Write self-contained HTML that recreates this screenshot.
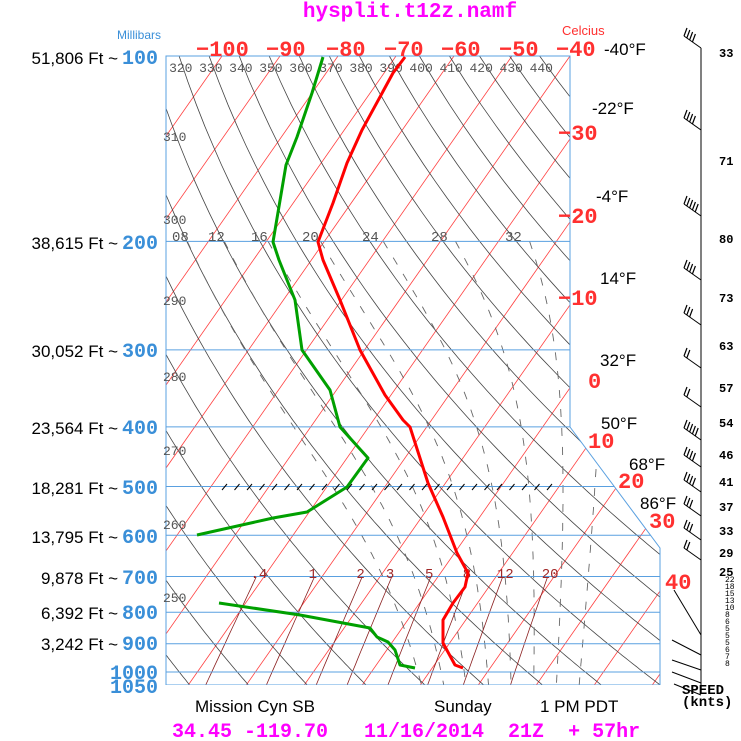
<!DOCTYPE html>
<html><head><meta charset="utf-8"><style>
body{margin:0;background:#fff;}
svg{display:block;}
.mono{font-family:"Liberation Mono",monospace;font-weight:bold;}
.sans{font-family:"Liberation Sans",sans-serif;}
</style></head><body>
<svg id="s" width="741" height="741" viewBox="0 0 741 741" xmlns="http://www.w3.org/2000/svg">
<defs><clipPath id="c"><polygon points="166,56 570,56 570,427 660,548 660,685 166,685"/></clipPath></defs>
<rect width="741" height="741" fill="#fff"/>
<g id="grid" clip-path="url(#c)"></g>
<g id="labels"></g>
<text x="410" y="17" class="mono" font-size="21" fill="#ff00ff" text-anchor="middle">hysplit.t12z.namf</text>
<text x="117" y="39" class="sans" font-size="12" fill="#3a8fd8">Millibars</text>
<text x="562" y="35" class="sans" font-size="13" fill="#ff3030">Celcius</text>
<g class="sans" font-size="17" fill="#000" text-anchor="end">
<text x="118" y="64">51,806 Ft ~</text><text x="118" y="249">38,615 Ft ~</text>
<text x="118" y="357">30,052 Ft ~</text><text x="118" y="434">23,564 Ft ~</text>
<text x="118" y="494">18,281 Ft ~</text><text x="118" y="543">13,795 Ft ~</text>
<text x="118" y="584">9,878 Ft ~</text><text x="118" y="619">6,392 Ft ~</text>
<text x="118" y="650">3,242 Ft ~</text>
</g>
<g class="mono" font-size="20" fill="#3a8fd8">
<text x="122" y="64">100</text><text x="122" y="249">200</text><text x="122" y="357">300</text>
<text x="122" y="434">400</text><text x="122" y="494">500</text><text x="122" y="543">600</text>
<text x="122" y="584">700</text><text x="122" y="619">800</text><text x="122" y="650">900</text>
<text x="110" y="679">1000</text><text x="110" y="693">1050</text>
</g>
<g class="mono" font-size="22" fill="#ff3030">
<text x="196" y="56">−100</text><text x="266" y="56">−90</text><text x="326" y="56">−80</text>
<text x="384" y="56">−70</text><text x="441" y="56">−60</text><text x="499" y="56">−50</text><text x="556" y="56">−40</text>
<text x="558" y="140">−30</text><text x="558" y="223">−20</text><text x="558" y="305">−10</text>
<text x="588" y="388">0</text><text x="588" y="448">10</text><text x="618" y="488">20</text>
<text x="649" y="528">30</text><text x="665" y="589">40</text>
</g>
<g class="sans" font-size="17" fill="#000">
<text x="604" y="55">-40°F</text><text x="592" y="114">-22°F</text><text x="596" y="202">-4°F</text>
<text x="600" y="284">14°F</text><text x="600" y="366">32°F</text><text x="601" y="429">50°F</text>
<text x="629" y="470">68°F</text><text x="640" y="509">86°F</text>
</g>
<g class="sans" font-size="17" fill="#000">
<text x="195" y="712">Mission Cyn SB</text><text x="434" y="712">Sunday</text><text x="540" y="712">1 PM PDT</text>
</g>
<text x="172" y="737" class="mono" font-size="20" fill="#ff00ff" xml:space="preserve">34.45 -119.70   11/16/2014  21Z  + 57hr</text>
<text x="682" y="694" class="mono" font-size="14" fill="#000">SPEED</text>
<text x="682" y="706" class="mono" font-size="14" fill="#000">(knts)</text>
<g id="wind"></g>
</svg>
<script>
var NS="http://www.w3.org/2000/svg";
function yP(p){return 56+267.5*Math.log(p/100);}
function xT(T,y){return 570+5.8*(T+40)-(y-56)*0.699;}
function el(par,tag,a,txt){var e=document.createElementNS(NS,tag);for(var k in a)e.setAttribute(k,a[k]);if(txt!=null)e.textContent=txt;par.appendChild(e);return e;}
var g=document.getElementById('grid'),L=document.getElementById('labels'),W=document.getElementById('wind');
function poly(par,pts,st){el(par,'polyline',Object.assign({points:pts.map(function(q){return q[0].toFixed(1)+','+q[1].toFixed(1)}).join(' '),fill:'none'},st));}
for(var T=-160;T<=60;T+=10){var y1=56,y2=685;poly(g,[[xT(T,y1),y1],[xT(T,y2),y2]],{stroke:'#ff4040','stroke-width':0.8});}
for(var th=200;th<=450;th+=10){var pts=[];for(var p=90;p<=1060;p+=10){var y=yP(p);var t=th*Math.pow(p/1000,0.2857)-273.15;pts.push([xT(t,y),y]);}poly(g,pts,{stroke:'#444','stroke-width':0.8});}
function es(tc){return 6.112*Math.exp(17.67*tc/(tc+243.5));}
function dTdp(T,p){var tc=T-273.15;var e=es(tc);var rs=0.622*e/(p-e);var Rd=287,Lv=2.5e6,cp=1004;return (Rd*T+Lv*rs)/(p*(cp+Lv*Lv*rs*0.622/(Rd*T*T)));}
for(var tw=8;tw<=36;tw+=4){var T=tw+273.15,p=1000,up=[];while(p>=200){var y=yP(p);up.push([xT(T-273.15,y),y]);T-=dTdp(T,p)*5;p-=5;}
var T2=tw+273.15,dn=[];for(p=1000;p<=1055;p+=5){dn.push([xT(T2-273.15,yP(p)),yP(p)]);T2+=dTdp(T2,p)*5;}
poly(g,up.reverse().concat(dn),{stroke:'#666','stroke-width':0.9,'stroke-dasharray':'8,11'});}
var ws=[0.4,1,2,3,5,8,12,20],wl=['.4','1','2','3','5','8','12','20'];
for(var i=0;i<ws.length;i++){var pts=[];for(var p=700;p<=1050;p+=25){var e=ws[i]*p/(622+ws[i]);var a=Math.log(e/6.112);var td=243.5*a/(17.67-a);var y=yP(p);pts.push([xT(td,y),y]);}
poly(g,pts,{stroke:'#8b2020','stroke-width':0.8});
el(L,'text',{x:pts[0][0]-6,y:578,'font-family':'Liberation Mono,monospace','font-size':14,fill:'#a02828'},wl[i]);}
var ps=[100,200,300,400,500,600,700,800,900,1000,1050];
ps.forEach(function(p){var y=yP(p);el(g,'line',{x1:166,y1:y,x2:700,y2:y,stroke:'#5aa0e0','stroke-width':1});});
for(var x=222;x<552;x+=12.5){el(g,'line',{x1:x,y1:490,x2:x+5,y2:484,stroke:'#000','stroke-width':1});}
el(L,'polyline',{points:'166,685 166,56 570,56 570,427 660,548 660,685',fill:'none',stroke:'#5aa0e0','stroke-width':1});
for(var th=320;th<=440;th+=10){var t=th*Math.pow(0.1,0.2857)-273.15;el(L,'text',{x:xT(t,56)-10,y:72,'font-family':'Liberation Mono,monospace','font-size':13,fill:'#555'},th);}
[[310,137],[300,220],[290,301],[280,377],[270,451],[260,525],[250,598]].forEach(function(a){el(L,'text',{x:163,y:a[1]+4,'font-family':'Liberation Mono,monospace','font-size':13,fill:'#555'},a[0]);});
[['08',172],['12',208],['16',251],['20',302],['24',362],['28',431],['32',505]].forEach(function(a){el(L,'text',{x:a[1],y:241,'font-family':'Liberation Mono,monospace','font-size':14,fill:'#555'},a[0]);});
var red=[[405,57],[393,73],[362,130],[347,163],[333,203],[318,242],[323,260],[340,300],[360,350],[385,395],[403,420],[410,427],[428,483],[443,517],[457,553],[468,573],[465,587],[453,603],[443,620],[443,633],[443,643],[455,665],[463,668]];
var grn=[[323,57],[312,93],[297,137],[286,165],[273,242],[279,260],[295,300],[302,350],[330,390],[340,427],[368,458],[347,487],[307,512],[273,518],[197,535],null,[219,603],[300,615],[370,628],[377,637],[388,642],[395,650],[400,665],[415,668]];
poly(L,red,{stroke:'#ff0000','stroke-width':3,'stroke-linejoin':'round'});
poly(L,grn.slice(0,15),{stroke:'#00a000','stroke-width':3,'stroke-linejoin':'round'});
poly(L,grn.slice(16),{stroke:'#00a000','stroke-width':3,'stroke-linejoin':'round'});
el(W,'line',{x1:701,y1:48,x2:701,y2:688,stroke:'#000','stroke-width':1});
var wd=[[48,4],[130,4],[216,5],[280,4],[325,3],[368,2],[407,2],[440,5],[467,4],[492,4],[516,3],[540,3],[560,2]];
wd.forEach(function(a){var y=a[0];var ex=684,ey=y-12;el(W,'line',{x1:701,y1:y,x2:ex,y2:ey,stroke:'#000','stroke-width':1});
for(var k=0;k<a[1];k++){var bx=ex+k*2.8,by=ey+k*2;el(W,'line',{x1:bx,y1:by,x2:bx+3,y2:by-8,stroke:'#000','stroke-width':1.2});}});
[[620,674,590],[640,672,640],[655,672,660],[668,672,672],[680,674,684]].forEach(function(a){el(W,'line',{x1:701,y1:a[0]+15,x2:a[1],y2:a[2],stroke:'#000','stroke-width':1});});
var sl=[[52,'33'],[160,'71'],[238,'80'],[297,'73'],[345,'63'],[387,'57'],[422,'54'],[454,'46'],[481,'41'],[506,'37'],[530,'33'],[552,'29'],[571,'25']];
sl.forEach(function(a){el(W,'text',{x:719,y:a[0]+5,'font-family':'Liberation Mono,monospace','font-size':12,'font-weight':'bold',fill:'#000'},a[1]);});
['22','18','15','13','10','8','6','5','5','5','6','7','8'].forEach(function(s,i){el(W,'text',{x:725,y:582+i*7,'font-family':'Liberation Mono,monospace','font-size':8,fill:'#000'},s);});
</script>
</body></html>
